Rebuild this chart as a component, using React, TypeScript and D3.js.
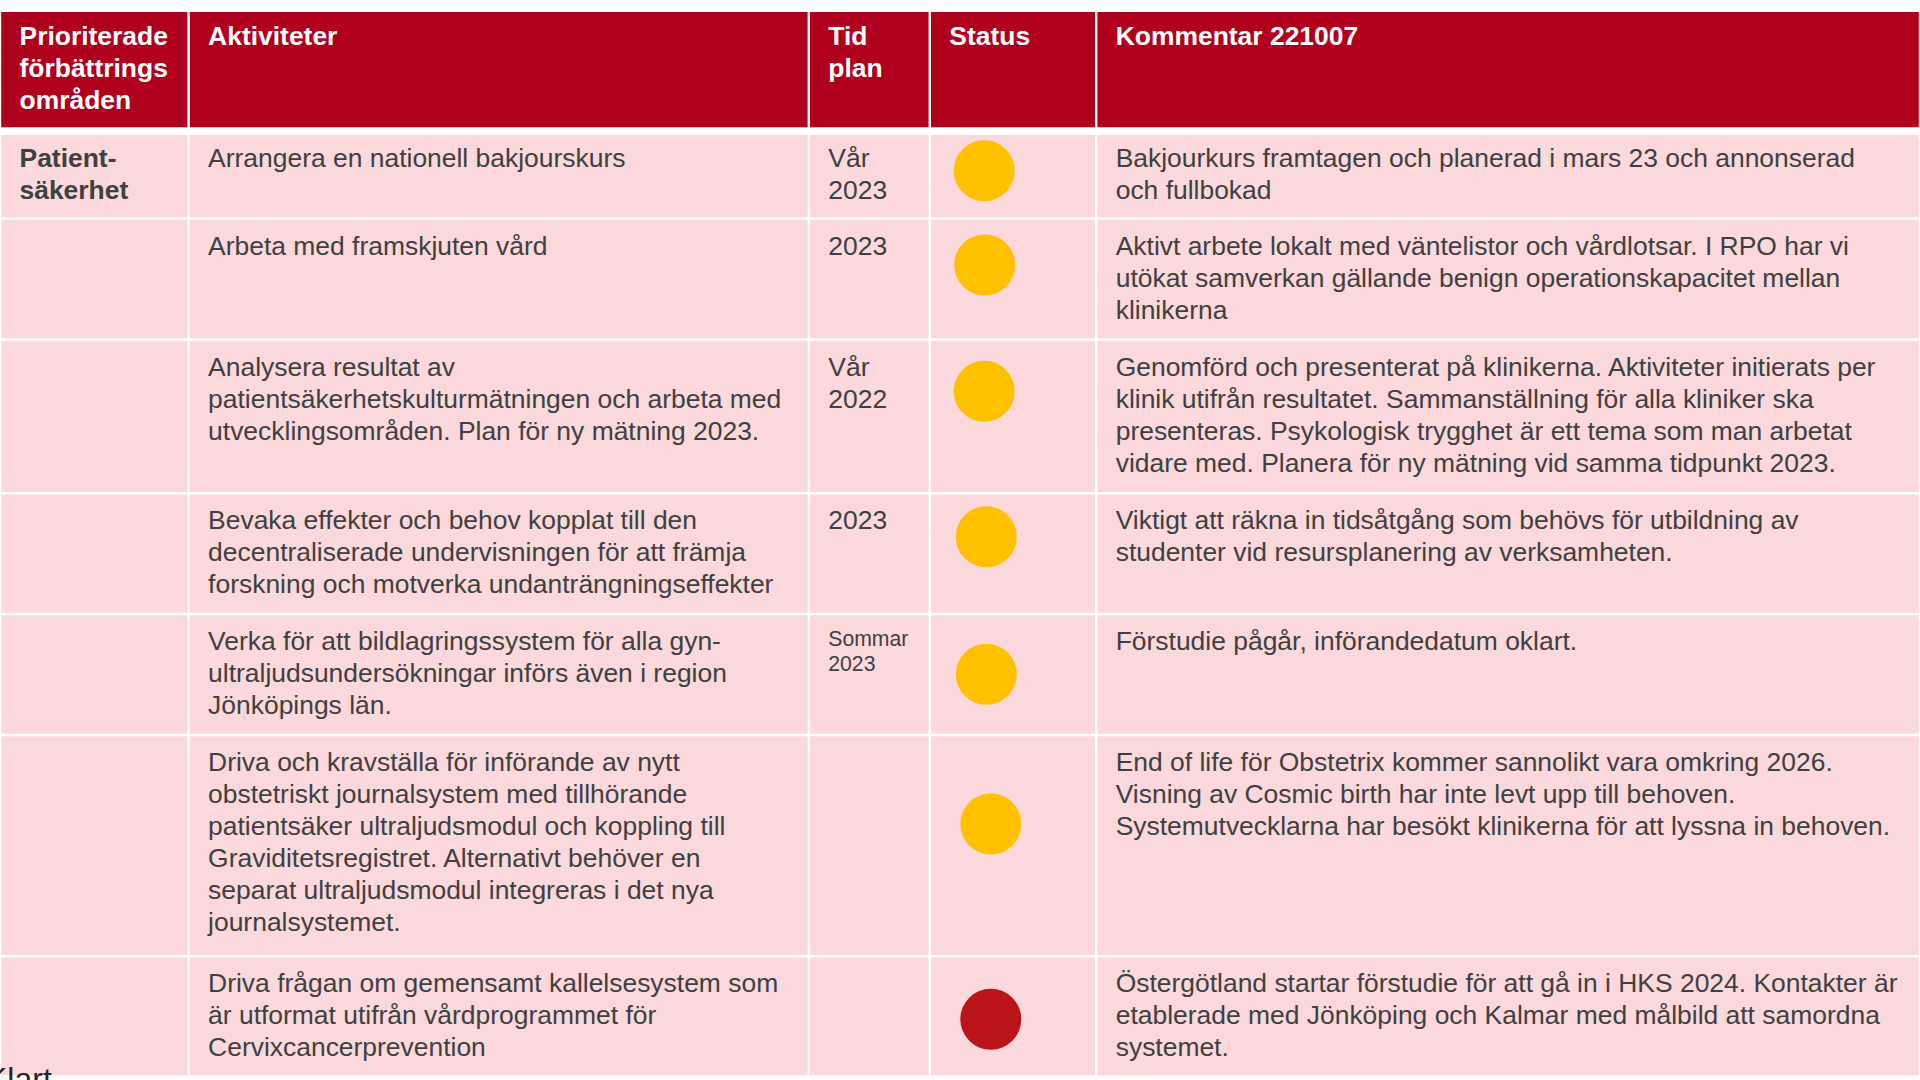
import React from "react";
import * as d3 from "d3";

// ---- Data ----
const headers = ["Prioriterade\nförbättrings\nområden", "Aktiviteter", "Tid\nplan", "Status", "Kommentar 221007"];

const areas = ["Patient-\nsäkerhet", "", "", "", "", "", ""];

const activities = [
  "Arrangera en nationell bakjourskurs",
  "Arbeta med framskjuten vård",
  "Analysera resultat av\npatientsäkerhetskulturmätningen och arbeta med\nutvecklingsområden. Plan för ny mätning 2023.",
  "Bevaka effekter och behov kopplat till den\ndecentraliserade undervisningen för att främja\nforskning och motverka undanträngningseffekter",
  "Verka för att bildlagringssystem för alla gyn-\nultraljudsundersökningar införs även i region\nJönköpings län.",
  "Driva och kravställa för införande av nytt\nobstetriskt journalsystem med tillhörande\npatientsäker ultraljudsmodul och koppling till\nGraviditetsregistret. Alternativt behöver en\nseparat ultraljudsmodul integreras i det nya\njournalsystemet.",
  "Driva frågan om gemensamt kallelsesystem som\när utformat utifrån vårdprogrammet för\nCervixcancerprevention",
];

const timePlans = ["Vår\n2023", "2023", "Vår\n2022", "2023", "Sommar\n2023", "", ""];

const statuses = ["pågår", "pågår", "pågår", "pågår", "pågår", "pågår", "ej påbörjad"];

const comments = [
  "Bakjourkurs framtagen och planerad i mars 23 och annonserad\noch fullbokad",
  "Aktivt arbete lokalt med väntelistor och vårdlotsar. I RPO har vi\nutökat samverkan gällande benign operationskapacitet mellan\nklinikerna",
  "Genomförd och presenterat på klinikerna. Aktiviteter initierats per\nklinik utifrån resultatet. Sammanställning för alla kliniker ska\npresenteras. Psykologisk trygghet är ett tema som man arbetat\nvidare med. Planera för ny mätning vid samma tidpunkt 2023.",
  "Viktigt att räkna in tidsåtgång som behövs för utbildning av\nstudenter vid resursplanering av verksamheten.",
  "Förstudie pågår, införandedatum oklart.",
  "End of life för Obstetrix kommer sannolikt vara omkring 2026.\nVisning av Cosmic birth har inte levt upp till behoven.\nSystemutvecklarna har besökt klinikerna för att lyssna in behoven.",
  "Östergötland startar förstudie för att gå in i HKS 2024. Kontakter är\netablerade med Jönköping och Kalmar med målbild att samordna\nsystemet.",
];

const statusKeys = ["pågår", "ej påbörjad"];
const footnote = "Klart";

// ---- Layout (table geometry) ----
const columnWidths = [188.6, 620.2, 121, 166.4, 823.8];
const headerTop = 12;
const headerHeight = 119.2;
const rowHeights = [87.3, 121, 153.7, 120.8, 121, 221.3, 120.2];
// hand-placed status dots: offset from cell's top-left
const dotNudges: [number, number][] = [
  [54.4, 39.5], [54.9, 46.5], [54.4, 51.8], [56.5, 43.6], [56.5, 60.2], [61, 89], [61, 62.9],
];
const smallTimeRows = [4];

const W = 1920;
const H = 1080;
const FONT = "'Liberation Sans', Arial, sans-serif";
const RED = "#AF001E";
const PINK = "#FAD8DB";
const TEXT = "#404040";
const FS = 26.45;
const LH = 32;
const PAD = 19.5;

export default function App() {
  const colEdges = [0, ...d3.cumsum(columnWidths)];
  const bodyTop = headerTop + headerHeight;
  const rowEdges = [bodyTop, ...Array.from(d3.cumsum(rowHeights), (v) => v + bodyTop)];
  const bodyBottom = rowEdges[rowEdges.length - 1];

  const xCol = d3.scaleOrdinal<number, number>().domain(d3.range(columnWidths.length)).range(colEdges.slice(0, -1));
  const color = d3.scaleOrdinal<string, string>().domain(statusKeys).range(["#FFC000", "#BA141A"]);

  const lines = (s: string) => (s ? s.split("\n") : []);

  const renderText = (
    s: string,
    x: number,
    y: number,
    opts: { bold?: boolean; fill?: string; size?: number; lh?: number } = {}
  ) =>
    lines(s).map((t, i) => (
      <text
        key={i}
        x={x}
        y={y + i * (opts.lh ?? LH)}
        fontFamily={FONT}
        fontSize={opts.size ?? FS}
        fontWeight={opts.bold ? "bold" : "normal"}
        fill={opts.fill ?? TEXT}
      >
        {t}
      </text>
    ));

  return (
    <svg
      width={W}
      height={H}
      viewBox={`0 0 ${W} ${H}`}
      style={{ position: "absolute", left: 0, top: 0, background: "#fff", display: "block" }}
    >
      {/* backgrounds */}
      <rect x={0} y={headerTop} width={W} height={headerHeight} fill={RED} />
      <rect x={0} y={bodyTop} width={W} height={bodyBottom - bodyTop} fill={PINK} />

      {/* grid lines */}
      {colEdges.map((x, i) => (
        <line key={"c" + i} x1={x} x2={x} y1={headerTop} y2={bodyBottom + 1.2} stroke="#fff" strokeWidth={2.4} />
      ))}
      <line x1={0} x2={W} y1={bodyTop} y2={bodyTop} stroke="#fff" strokeWidth={7.7} />
      {rowEdges.slice(1).map((y, i) => (
        <line key={"r" + i} x1={0} x2={W} y1={y} y2={y} stroke="#fff" strokeWidth={2.4} />
      ))}

      {/* header */}
      {headers.map((h, i) => (
        <g key={"h" + i}>{renderText(h, xCol(i) + PAD, headerTop + 33.3, { bold: true, fill: "#fff" })}</g>
      ))}

      {/* body */}
      {activities.map((a, r) => {
        const top = rowEdges[r];
        const base = top + 36;
        const small = smallTimeRows.includes(r);
        return (
          <g key={"row" + r}>
            {renderText(areas[r], xCol(0) + PAD, base, { bold: true })}
            {renderText(a, xCol(1) + PAD, base)}
            {small
              ? renderText(timePlans[r], xCol(2) + PAD, top + 31.5, { size: 21.2, lh: 25.7 })
              : renderText(timePlans[r], xCol(2) + PAD, base)}
            <circle
              cx={xCol(3) + dotNudges[r][0]}
              cy={top + dotNudges[r][1]}
              r={30.5}
              fill={color(statuses[r])}
            />
            {renderText(comments[r], xCol(4) + PAD, base)}
          </g>
        );
      })}

      {/* footnote (cut off at the bottom edge, as in the reference) */}
      <text x={-14} y={1090} fontFamily={FONT} fontSize={32} fill="#262626">
        {footnote}
      </text>
    </svg>
  );
}
